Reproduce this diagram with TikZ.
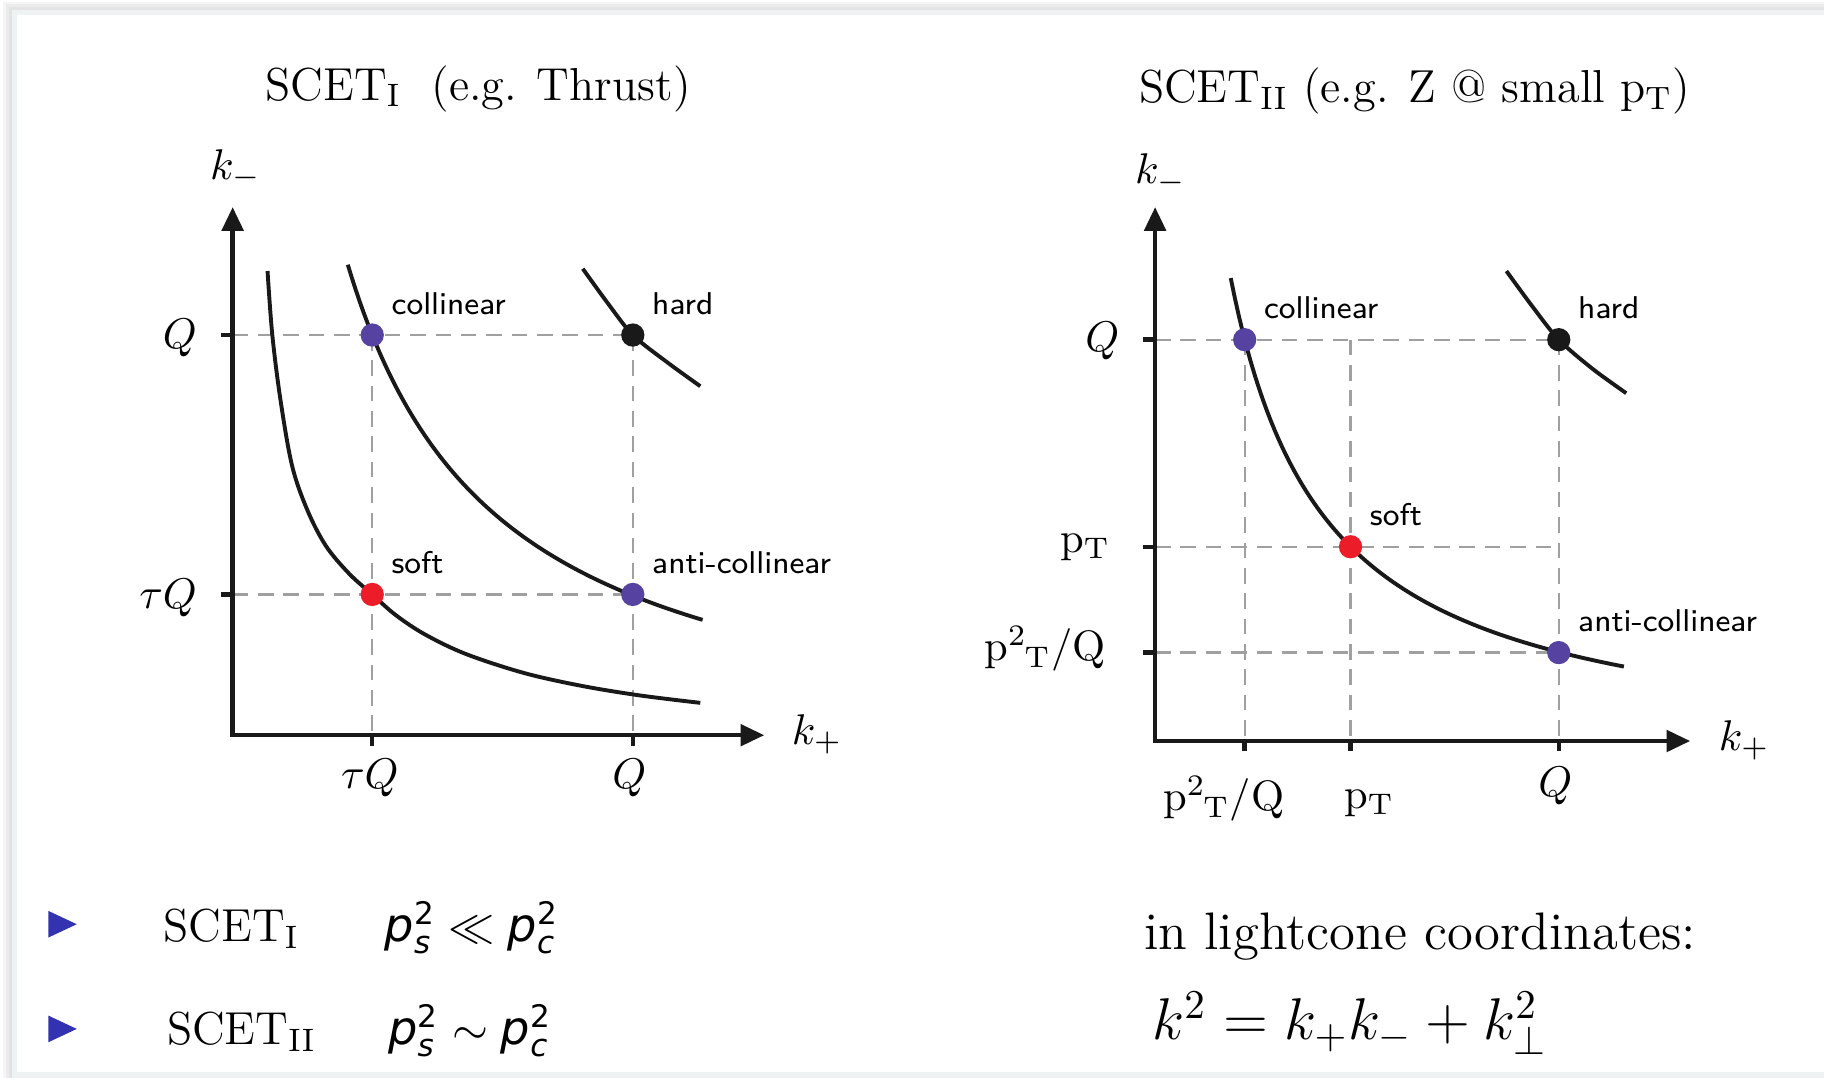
\RequirePackage{fix-cm}
\documentclass[tikz,border=0pt]{standalone}
\usepackage{fontspec}
\newfontfamily\djv{DejaVu Sans}
\usetikzlibrary{arrows.meta}
\definecolor{ptpurple}{RGB}{86,66,160}
\definecolor{ptred}{RGB}{236,28,40}
\definecolor{ptblack}{RGB}{25,25,25}
\definecolor{dashgray}{RGB}{160,160,160}
\definecolor{bulletblue}{RGB}{51,51,178}
\definecolor{bandgray}{RGB}{238,242,242}
\newcommand\psq[1]{\hbox{\djv\itshape p}^{\hbox{\djv\fontsize{7.6}{8}\selectfont 2}}_{\hbox{\djv\itshape\fontsize{7.6}{8}\selectfont #1}}}
\newcommand\ptsq{p\textsuperscript{2}\kern-0.6pt\textsubscript{T}/Q}
\begin{document}
\begin{tikzpicture}[x=0.01cm,y=-0.01cm,
  axis/.style={line width=1.1pt, draw=ptblack, line join=miter,
    {Triangle[length=5.8pt,width=5.2pt]}-{Triangle[length=5.8pt,width=5.2pt]}},
  tickmark/.style={line width=1.1pt, draw=ptblack},
  curve/.style={line width=0.95pt, draw=ptblack},
  guide/.style={line width=0.55pt, draw=dashgray, dash pattern=on 3.8pt off 2.4pt},
  dot/.style={circle, inner sep=0pt, minimum size=0.2cm},
  lbl/.style={font=\fontsize{7.7}{9}\sffamily, inner sep=0pt, anchor=base west},
  axl/.style={font=\fontsize{10.5}{12}\selectfont, inner sep=0pt},
  rml/.style={font=\fontsize{10.4}{12}\selectfont, inner sep=0pt},
  ttl/.style={font=\fontsize{11.3}{13}\selectfont, inner sep=0pt, anchor=base},
  bot/.style={font=\fontsize{11.3}{13}\selectfont, inner sep=0pt, anchor=base west},
  bullet/.style={fill=bulletblue}
]
\useasboundingbox (0,0) rectangle (1568,926);
\clip (0,0) rectangle (1568,926);
% page frame
\fill[white] (0,0) rectangle (1568,926);
\fill[black!4] (3,1.5) rectangle (1600,960);
\fill[black!8] (5,3.5) rectangle (1600,960);
\fill[black!11] (7.5,6) rectangle (1600,960);
\fill[bandgray] (10.3,8.6) rectangle (1600,960);
\fill[white] (14.6,12.9) rectangle (1600,921.5);

% titles
\node[ttl] (t1) at (411,86) {SCET\textsubscript{I}\ \ (e.g. Thrust)};
\node[ttl] (t2) at (1216,88) {SCET\textsubscript{II} (e.g. Z @ small p\textsubscript{T})};

% ---------------- left panel ----------------
\begin{scope}[shift={(200,632)}, yscale=-1]
  \coordinate (Lo) at (0,0);
  \coordinate (Ly) at (0,454);
  \coordinate (Lx) at (457,0);
  \coordinate (LyQ) at (0,344);
  \coordinate (LyT) at (0,121);
  \coordinate (LyQa) at (-10,344);
  \coordinate (LyTa) at (-10,121);
  \coordinate (LxT) at (120,0);
  \coordinate (LxQ) at (344,0);
  \coordinate (LxTb) at (120,-9);
  \coordinate (LxQb) at (344,-9);
  \coordinate (Pc) at (120,344);
  \coordinate (Ph) at (344,344);
  \coordinate (Ps) at (120,121);
  \coordinate (Pa) at (344,121);
  % guides
  \draw[guide] (LyQ) -- (Ph);
  \draw[guide] (LyT) -- (Pa);
  \draw[guide] (Pc) -- (LxT);
  \draw[guide] (Ph) -- (LxQ);
  % curves
  \draw[curve] plot[smooth, tension=0.55] coordinates {(30,399) (34,345) (41,289) (51,232) (64,194) (80,163) (100,139) (120,121) (140,103.4) (165,86.8) (200,70) (250,53.6) (300,42.4) (350,34.2) (402,27.8)};
  \draw[curve] plot[domain=99:404, samples=90] (\x, {568.35/((\x+31.4)/100)-31.4});
  \draw[curve] plot[smooth, tension=0.5] coordinates {(301,401) (322,372) (344,344) (373,321) (402,300)};
  % axes
  \draw[axis] (Ly) -- (Lo) -- (Lx);
  \draw[tickmark] (LyQa) -- (LyQ);
  \draw[tickmark] (LyTa) -- (LyT);
  \draw[tickmark] (LxT) -- (LxTb);
  \draw[tickmark] (LxQ) -- (LxQb);
  % dots
  \node[dot, fill=ptpurple] (Lc) at (Pc) {};
  \node[dot, fill=ptblack] (Lh) at (Ph) {};
  \node[dot, fill=ptred] (Ls) at (Ps) {};
  \node[dot, fill=ptpurple] (La) at (Pa) {};
  % labels
  \node[lbl] (Llc) at (136,362) {collinear};
  \node[lbl] (Llh) at (360,362) {hard};
  \node[lbl] (Lls) at (136,139) {soft};
  \node[lbl] (Lla) at (360,139) {anti-collinear};
  \node[axl, anchor=base west] (Lkm) at (-20,478) {$k_-$};
  \node[axl, anchor=base west] (Lkp) at (480,-8) {$k_+$};
  \node[axl, anchor=base east] (LyQl) at (-30,332) {$Q$};
  \node[axl, anchor=base east] (LyTl) at (-30,109) {$\tau Q$};
  \node[axl, anchor=base] (LxTl) at (118,-46) {$\tau Q$};
  \node[axl, anchor=base] (LxQl) at (341,-46) {$Q$};
\end{scope}

% ---------------- right panel ----------------
\begin{scope}[shift={(993,637)}, yscale=-1]
  \coordinate (Ro) at (0,0);
  \coordinate (Ry) at (0,459);
  \coordinate (Rx) at (460,0);
  \coordinate (RyQ) at (0,345);
  \coordinate (RyP) at (0,167);
  \coordinate (RyS) at (0,76);
  \coordinate (RyQa) at (-10,345);
  \coordinate (RyPa) at (-10,167);
  \coordinate (RySa) at (-10,76);
  \coordinate (RxS) at (77,0);
  \coordinate (RxP) at (168,0);
  \coordinate (RxQ) at (347,0);
  \coordinate (RxSb) at (77,-9);
  \coordinate (RxPb) at (168,-9);
  \coordinate (RxQb) at (347,-9);
  \coordinate (Qc) at (77,345);
  \coordinate (Qh) at (347,345);
  \coordinate (Qs) at (168,167);
  \coordinate (Qa) at (347,76);
  \coordinate (QmP) at (168,345);
  \coordinate (QrP) at (347,167);
  % guides
  \draw[guide] (RyQ) -- (Qh);
  \draw[guide] (RyP) -- (QrP);
  \draw[guide] (RyS) -- (Qa);
  \draw[guide] (Qc) -- (RxS);
  \draw[guide] (QmP) -- (RxP);
  \draw[guide] (Qh) -- (RxQ);
  % curves
  \draw[curve] plot[domain=65:403, samples=100] (\x, {340.77/((\x+17.1)/100)-17.1});
  \draw[curve] plot[smooth, tension=0.5] coordinates {(302,404) (324,374) (347,345) (376,320) (405,299)};
  % axes
  \draw[axis] (Ry) -- (Ro) -- (Rx);
  \draw[tickmark] (RyQa) -- (RyQ);
  \draw[tickmark] (RyPa) -- (RyP);
  \draw[tickmark] (RySa) -- (RyS);
  \draw[tickmark] (RxS) -- (RxSb);
  \draw[tickmark] (RxP) -- (RxPb);
  \draw[tickmark] (RxQ) -- (RxQb);
  % dots
  \node[dot, fill=ptpurple] (Rc) at (Qc) {};
  \node[dot, fill=ptblack] (Rh) at (Qh) {};
  \node[dot, fill=ptred] (Rs) at (Qs) {};
  \node[dot, fill=ptpurple] (Ra) at (Qa) {};
  % labels
  \node[lbl] (Rlc) at (93,363) {collinear};
  \node[lbl] (Rlh) at (363,363) {hard};
  \node[lbl] (Rls) at (184,185) {soft};
  \node[lbl] (Rla) at (363,94) {anti-collinear};
  \node[axl, anchor=base west] (Rkm) at (-18,479) {$k_-$};
  \node[axl, anchor=base west] (Rkp) at (484,-8) {$k_+$};
  \node[axl, anchor=base east] (RyQl) at (-30,335) {$Q$};
  \node[rml, anchor=base east] (RyPl) at (-38,162) {p\textsubscript{T}};
  \node[rml, anchor=base east] (RySl) at (-42,69) {\ptsq};
  \node[rml, anchor=base] (RxSl) at (59,-60) {\ptsq};
  \node[rml, anchor=base] (RxPl) at (184,-58) {p\textsubscript{T}};
  \node[axl, anchor=base] (RxQl) at (344,-48) {$Q$};
\end{scope}

% ---------------- bottom ----------------
\fill[bullet] (41.5,783) -- (66,794.5) -- (41.5,806) -- cycle;
\fill[bullet] (41.5,873) -- (66,884.5) -- (41.5,896) -- cycle;
\node[bot] (b1) at (140,809) {SCET\textsubscript{I}};
\node[bot] (b1m) at (330,809) {$\psq{s}\ll\psq{c}$};
\node[bot] (b2) at (143,898) {SCET\textsubscript{II}};
\node[bot] (b2m) at (333,898) {$\psq{s}\sim\psq{c}$};
\node[font=\fontsize{12.9}{14}\selectfont, inner sep=0pt, anchor=base west] (lc) at (983,816) {in lightcone coordinates:};
\node[font=\fontsize{14.4}{16}\selectfont, inner sep=0pt, anchor=base west] (eq) at (990,894) {$k^2 = k_+k_- + k_\perp^2$};
\end{tikzpicture}
\end{document}
